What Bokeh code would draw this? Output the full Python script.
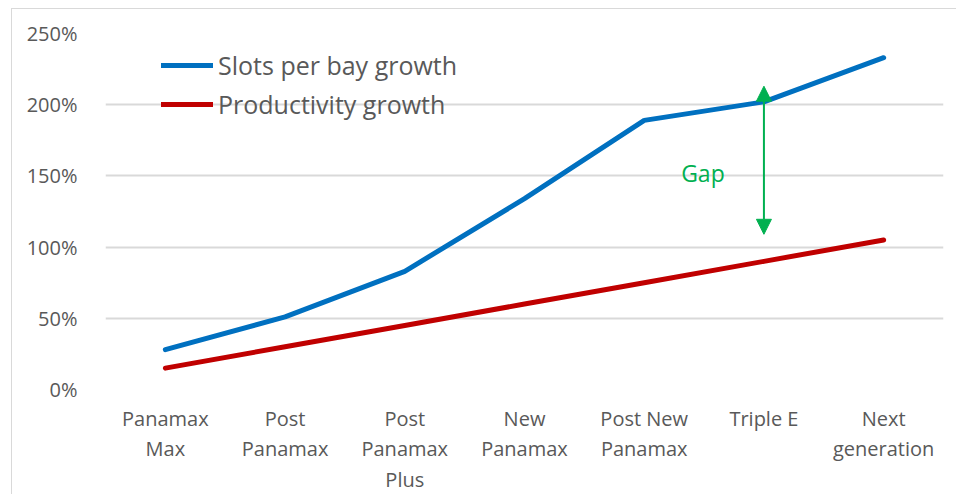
from bokeh.plotting import figure
from bokeh.models import (ColumnDataSource, FactorRange, Range1d, FixedTicker,
                          PrintfTickFormatter, Arrow, NormalHead, Legend, LegendItem)
from bokeh.core.properties import value
from bokeh.embed import file_html
from bokeh.resources import INLINE

categories = ["Panamax\nMax", "Post\nPanamax", "Post\nPanamax\nPlus", "New\nPanamax",
              "Post New\nPanamax", "Triple E", "Next\ngeneration"]
slots_growth = [28, 51, 83, 134, 189, 202, 233]
productivity_growth = [15, 30, 45, 60, 75, 90, 105]
y_ticks = [0, 50, 100, 150, 200, 250]
gap_category = "Triple E"
gap_top = 213
gap_bottom = 109
gap_label_y = 152

FONT = "Open Sans"
TXT = "#595959"
BLUE = "#0070C0"
RED = "#C00000"
GREEN = "#00B050"

p = figure(width=945, height=486, x_range=FactorRange(factors=categories, range_padding=0),
           y_range=Range1d(0, 250), output_backend="svg", toolbar_location=None,
           min_border_left=93, min_border_top=24, min_border_right=14, min_border_bottom=106)
p.outline_line_color = None
p.styles = {"margin-left": "11px", "margin-top": "8px",
            "border-left": "1px solid #D9D9D9", "border-top": "1px solid #D9D9D9"}

src = ColumnDataSource(dict(x=categories, slots=slots_growth, prod=productivity_growth))
r1 = p.line("x", "slots", source=src, line_color=BLUE, line_width=5, line_cap="round", line_join="round")
r2 = p.line("x", "prod", source=src, line_color=RED, line_width=5, line_cap="round", line_join="round")

# axes
p.yaxis.ticker = FixedTicker(ticks=y_ticks)
p.yaxis.formatter = PrintfTickFormatter(format="%d%%")
for ax in (p.xaxis[0], p.yaxis[0]):
    ax.axis_line_color = None
    ax.major_tick_line_color = None
    ax.minor_tick_line_color = None
    ax.major_label_text_font = FONT
    ax.major_label_text_font_size = "20px"
    ax.major_label_text_color = TXT
p.yaxis.major_label_standoff = 22
p.xaxis.major_label_standoff = 9
p.xaxis.major_label_text_line_height = 1.13
p.xgrid.grid_line_color = None
p.ygrid.ticker = FixedTicker(ticks=y_ticks)
p.ygrid.grid_line_color = "#D9D9D9"
p.ygrid.grid_line_width = 2

# gap arrow
gsrc = ColumnDataSource(dict(x=[gap_category], y0=[gap_bottom], y1=[gap_top]))
p.add_layout(Arrow(x_start="x", y_start="y0", x_end="x", y_end="y1", source=gsrc,
                   line_color=GREEN, line_width=2,
                   start=NormalHead(size=15, fill_color=GREEN, line_color=GREEN),
                   end=NormalHead(size=15, fill_color=GREEN, line_color=GREEN)))
tsrc = ColumnDataSource(dict(x=[gap_category], y=[gap_label_y], t=["Gap"]))
p.text("x", "y", text="t", source=tsrc, x_offset=-61, text_align="center", text_baseline="middle",
       text_font=value(FONT), text_font_size="23px", text_color=GREEN)

legend = Legend(items=[LegendItem(label="Slots per bay growth", renderers=[r1]),
                       LegendItem(label="Productivity growth", renderers=[r2])],
                location=(56, 268), padding=0, margin=0, spacing=5,
                glyph_width=52, glyph_height=24, label_height=24, label_standoff=5,
                label_text_font=FONT, label_text_font_size="25px", label_text_color=TXT,
                border_line_color=None, background_fill_alpha=0)
p.add_layout(legend)

open("out.html", "w").write(file_html(p, INLINE))
